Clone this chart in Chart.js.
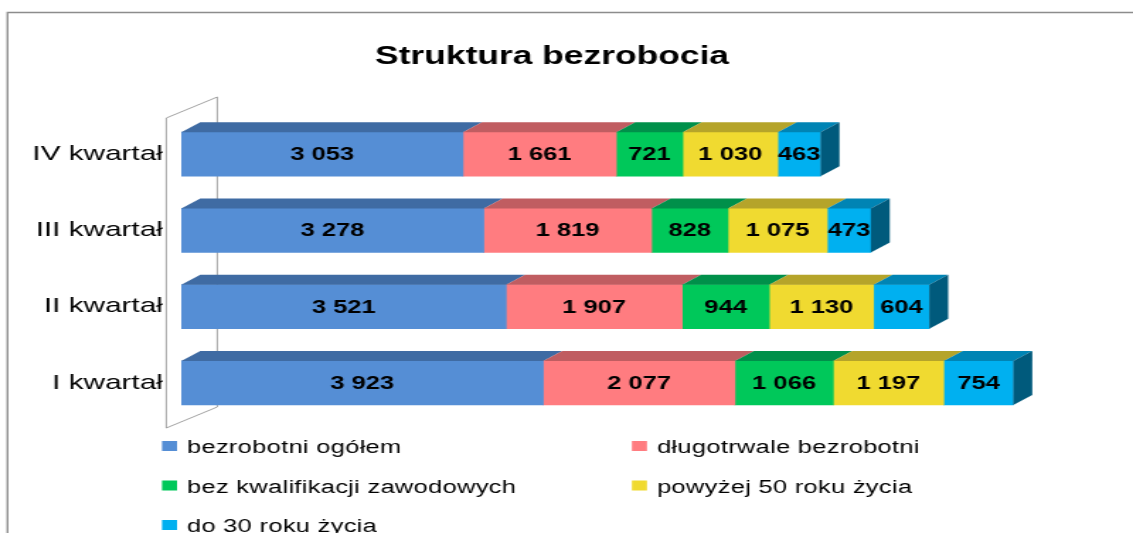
<!DOCTYPE html>
<html>
<head>
<meta charset="utf-8">
<script src="https://cdn.jsdelivr.net/npm/chart.js@4.4.1/dist/chart.umd.min.js"></script>
<style>
  html, body { margin: 0; padding: 0; background: #fff; overflow: hidden; }
  #chart { display: block; }
</style>
</head>
<body>
<!-- drawn at 800 wide and stretched to 1133, like the original picture -->
<canvas id="chart" width="800" height="533" style="width:1133px;height:533px"></canvas>
<script>
const quarters = ['IV kwartał', 'III kwartał', 'II kwartał', 'I kwartał'];
const seriesNames = [
    'bezrobotni ogółem',
    'długotrwale bezrobotni',
    'bez kwalifikacji zawodowych',
    'powyżej 50 roku życia',
    'do 30 roku życia'
];
const ogolem = [3053, 3278, 3521, 3923];
const dlugotrwale = [1661, 1819, 1907, 2077];
const bezKwalifikacji = [721, 828, 944, 1066];
const powyzej50 = [1030, 1075, 1130, 1197];
const do30 = [463, 473, 604, 754];

const frontColors = ['#558ED5', '#FF7C80', '#00C85A', '#F0DA30', '#00B0F0'];
const topColors = ['#3F6BA3', '#C05D61', '#00904A', '#B5A42A', '#0084B4'];
const sideColor = '#005A7C';

const DEPTH_X = 13.4;
const DEPTH_Y = 10;
const FONT = '"Liberation Sans", Arial, sans-serif';

function formatNumber(v) {
    return String(v).replace(/\B(?=(\d{3})+(?!\d))/g, ' ');
}

const box3d = {
    id: 'box3d',
    beforeDraw(chart) {
        // clipped outer frame of the original chart box
        let ctx = chart.ctx;
        ctx.save();
        ctx.strokeStyle = '#8c8c8c';
        ctx.lineWidth = 1.4;
        ctx.beginPath();
        ctx.moveTo(5.3, chart.height);
        ctx.lineTo(5.3, 12.5);
        ctx.lineTo(chart.width, 12.5);
        ctx.stroke();
        ctx.restore();
    },
    beforeDatasetsDraw(chart) {
        // side wall of the 3d plot
        let ctx = chart.ctx;
        let a = chart.chartArea;
        let fx = a.left - 10.6, bx = a.left + 25.4;
        ctx.save();
        ctx.strokeStyle = '#8a8a8a';
        ctx.lineWidth = 0.8;
        ctx.beginPath();
        ctx.moveTo(fx, a.top + 2);
        ctx.lineTo(bx, a.top - 19);
        ctx.lineTo(bx, a.bottom - 14);
        ctx.lineTo(fx, a.bottom + 7);
        ctx.closePath();
        ctx.stroke();
        ctx.restore();
    },
    afterDatasetsDraw(chart) {
        let ctx = chart.ctx;
        let last = chart.data.datasets.length - 1;
        ctx.save();
        chart.data.datasets.forEach((ds, i) => {
            let meta = chart.getDatasetMeta(i);
            meta.data.forEach(bar => {
                let p = bar.getProps(['x', 'y', 'base', 'height'], true);
                let x0 = Math.min(p.base, p.x), x1 = Math.max(p.base, p.x);
                let top = p.y - p.height / 2, bottom = p.y + p.height / 2;
                ctx.fillStyle = topColors[i];
                ctx.beginPath();
                ctx.moveTo(x0, top);
                ctx.lineTo(x1, top);
                ctx.lineTo(x1 + DEPTH_X, top - DEPTH_Y);
                ctx.lineTo(x0 + DEPTH_X, top - DEPTH_Y);
                ctx.closePath();
                ctx.fill();
                if (i === last) {
                    ctx.fillStyle = sideColor;
                    ctx.beginPath();
                    ctx.moveTo(x1, top);
                    ctx.lineTo(x1 + DEPTH_X, top - DEPTH_Y);
                    ctx.lineTo(x1 + DEPTH_X, bottom - DEPTH_Y);
                    ctx.lineTo(x1, bottom);
                    ctx.closePath();
                    ctx.fill();
                }
            });
        });
        // values inside the bars
        ctx.fillStyle = '#000';
        ctx.font = 'bold 18px ' + FONT;
        ctx.textAlign = 'center';
        ctx.textBaseline = 'middle';
        chart.data.datasets.forEach((ds, i) => {
            chart.getDatasetMeta(i).data.forEach((bar, j) => {
                let p = bar.getProps(['x', 'y', 'base'], true);
                ctx.fillText(formatNumber(ds.data[j]), (p.x + p.base) / 2, p.y + 1);
            });
        });
        ctx.restore();
    },
    afterDraw(chart) {
        // legend in two columns under the plot
        let ctx = chart.ctx;
        let boxX = [114.4, 446.2];
        let textX = [132, 463.9];
        ctx.save();
        ctx.font = '18px ' + FONT;
        ctx.letterSpacing = '0.2px';
        ctx.textAlign = 'left';
        ctx.textBaseline = 'alphabetic';
        chart.data.datasets.forEach((ds, i) => {
            let col = i % 2;
            let y = 446 + Math.floor(i / 2) * 39.5;
            ctx.fillStyle = frontColors[i];
            ctx.fillRect(boxX[col], y - 5, 10.6, 10);
            ctx.fillStyle = '#000';
            ctx.fillText(ds.label, textX[col], y + 7.3);
        });
        ctx.restore();
    }
};

const seriesValues = [ogolem, dlugotrwale, bezKwalifikacji, powyzej50, do30];

new Chart(document.getElementById('chart'), {
    type: 'bar',
    data: {
        labels: quarters,
        datasets: seriesValues.map((vals, i) => ({
            label: seriesNames[i],
            data: vals,
            backgroundColor: frontColors[i],
            borderWidth: 0,
            barThickness: 44
        }))
    },
    options: {
        indexAxis: 'y',
        responsive: false,
        animation: false,
        layout: { padding: { top: 0, left: 0, right: 20.5, bottom: 112 } },
        plugins: {
            legend: { display: false },
            tooltip: { enabled: false },
            title: {
                display: true,
                text: 'Struktura bezrobocia',
                color: '#000',
                font: { family: FONT, size: 25, weight: 'bold', lineHeight: 1.2 },
                padding: { top: 42, bottom: 44 }
            }
        },
        scales: {
            x: {
                stacked: true,
                display: false,
                min: 0,
                max: 10000
            },
            y: {
                stacked: true,
                grid: { display: false, drawTicks: false },
                border: { display: false },
                ticks: {
                    color: '#000',
                    padding: 13,
                    font: { family: FONT, size: 21 }
                },
                afterFit(scale) {
                    scale.width = 128;
                }
            }
        }
    },
    plugins: [box3d]
});
</script>
</body>
</html>
